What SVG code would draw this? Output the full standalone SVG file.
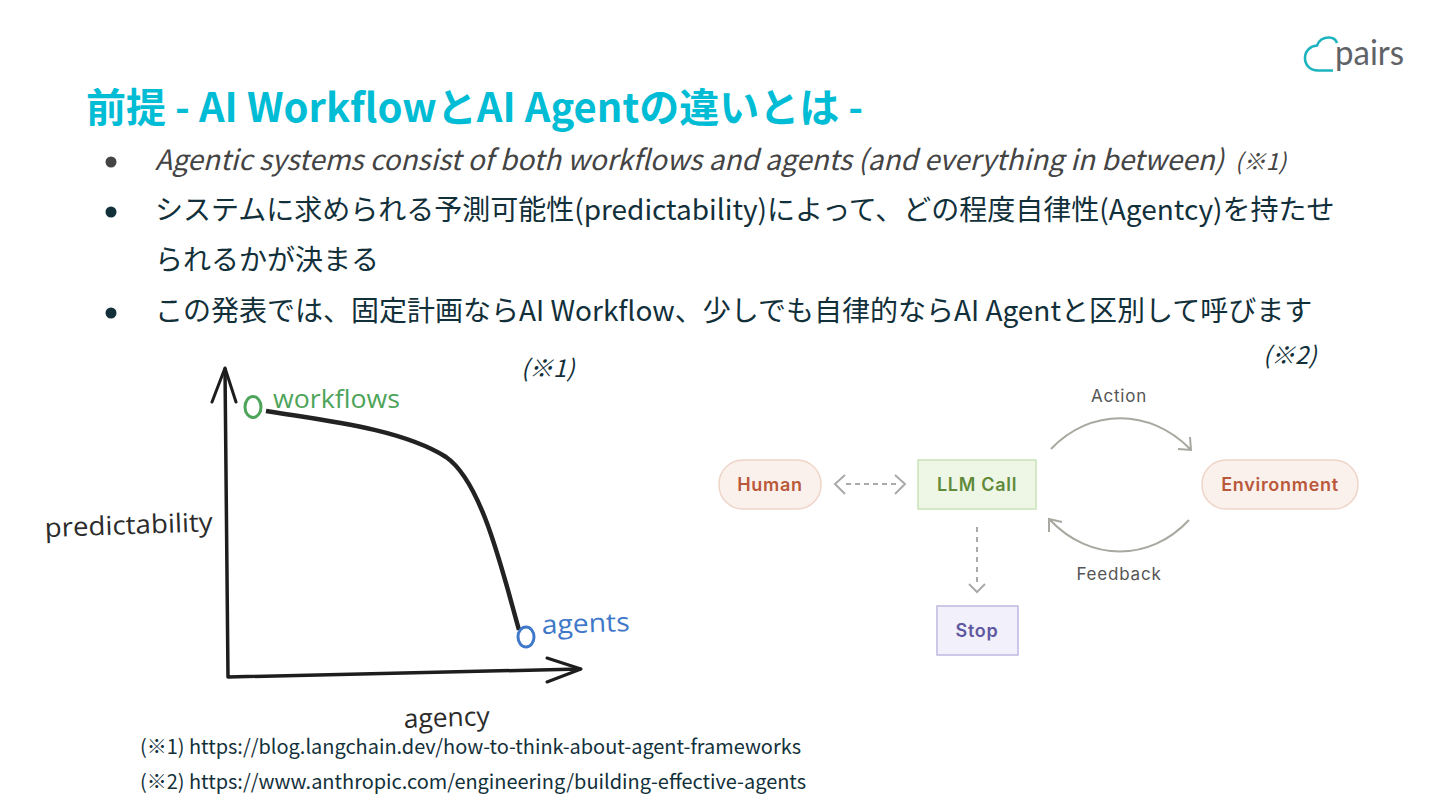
<svg xmlns="http://www.w3.org/2000/svg" width="1440" height="810" viewBox="0 0 1440 810">
<style>
text{font-family:"Noto Sans CJK JP","Noto Sans",sans-serif;fill:#1a2e35}
.title{font-size:40px;font-weight:700;fill:#00bcd4}
.b{font-size:28px;fill:#12303a}
.i{font-style:italic;fill:#444}
.r{font-size:24px;font-style:italic;fill:#12303a}
.f{font-size:20px;fill:#12303a}
.h{font-family:"Open Sans",sans-serif;font-size:26px;fill:#2b2b2b}
.d{font-family:"Inter",sans-serif;font-size:18px;font-weight:600;text-anchor:middle;letter-spacing:.7px}
.l{font-family:"Inter",sans-serif;font-size:17px;fill:#555;text-anchor:middle;letter-spacing:.8px}
.g{fill:none;stroke:#a8a8a0;stroke-width:2}
.da{fill:none;stroke:#aaa;stroke-width:2}
.ax{fill:none;stroke:#1d1d1d;stroke-width:3.5;stroke-linecap:round;stroke-linejoin:round}
</style>
<rect width="1440" height="810" fill="#fff"/>
<g id="logo">
<path d="M1333 70.500H1318C1310 70.500 1305 65 1305 58C1305 51 1310 46 1317 45.500C1319 40 1324 37.500 1329 37.500C1334 37.500 1336 40 1337 43" fill="none" stroke="#1db4c0" stroke-width="2.600"/>
<text x="1335" y="65" textLength="69" lengthAdjust="spacingAndGlyphs" style="font-family:'Lato',sans-serif;font-size:35px;fill:#5f6368">pairs</text>
</g>
<g id="heading"><text class="title" x="86" y="122">前提 - AI WorkflowとAI Agentの違いとは -</text></g>
<g id="bullets">
<circle cx="111" cy="162" r="5.500" fill="#444"/>
<text class="b i" x="155" y="170" textLength="1069" lengthAdjust="spacingAndGlyphs">Agentic systems consist of both workflows and agents (and everything in between)</text>
<text class="r" x="1235" y="170" style="fill:#444;font-size:23px">(※1)</text>
<circle cx="111" cy="212" r="5.500" fill="#12303a"/>
<text class="b" x="155" y="220">システムに求められる予測可能性(predictability)によって、どの程度自律性(Agentcy)を持たせ</text>
<text class="b" x="155" y="270">られるかが決まる</text>
<circle cx="111" cy="313" r="5.500" fill="#12303a"/>
<text class="b" x="155" y="321">この発表では、固定計画ならAI Workflow、少しでも自律的ならAI Agentと区別して呼びます</text>
</g>
<g id="refs">
<text class="r" x="521" y="377">(※1)</text>
<text class="r" x="1263" y="364">(※2)</text>
<text class="f" x="140" y="754" textLength="661" lengthAdjust="spacingAndGlyphs">(※1) https://blog.langchain.dev/how-to-think-about-agent-frameworks</text>
<text class="f" x="140" y="789" textLength="666" lengthAdjust="spacingAndGlyphs">(※2) https://www.anthropic.com/engineering/building-effective-agents</text>
</g>
<g id="chart-axes">
<path class="ax" d="M225 369L228 677L580 669"/>
<path class="ax" d="M212 402L225 368L236 402M547 658L581 669L547 682" style="stroke-width:3"/>
<path d="M266 411C320 420 400 428 446 457C482 482 502 570 519 630" fill="none" stroke="#222" stroke-width="4.500"/>
</g>
<g id="workflows"><ellipse cx="253" cy="407" rx="8" ry="10.500" fill="none" stroke="#4ea45a" stroke-width="3"/>
<text class="h" x="273" y="408" style="fill:#4ea45a" textLength="127" lengthAdjust="spacingAndGlyphs">workflows</text></g>
<g id="agents"><ellipse cx="526" cy="637" rx="8" ry="10" fill="none" stroke="#3f78c9" stroke-width="3"/>
<text class="h" x="542" y="634" style="fill:#3f78c9" textLength="88" lengthAdjust="spacingAndGlyphs" transform="rotate(-2 542 634)">agents</text></g>
<g id="predictability"><text class="h" x="45" y="537" textLength="168" lengthAdjust="spacingAndGlyphs" transform="rotate(-2 45 537)">predictability</text></g>
<g id="agency"><text class="h" x="404" y="728" textLength="86" lengthAdjust="spacingAndGlyphs" transform="rotate(-2 404 728)">agency</text></g>
<g id="connectors">
<path class="g" d="M1051 449C1090 408 1150 408 1190 449M1190 437L1191 450L1178 449"/>
<path class="g" d="M1189 520C1150 562 1090 562 1050 520M1062 522L1049 519L1049 532"/>
<path class="da" d="M846 484H896" stroke-dasharray="5 4"/>
<path class="da" d="M845 475L835 484L845 494M895 475L905 484L895 494"/>
<path class="da" d="M977 582V523" stroke-dasharray="5 5"/>
<path class="da" d="M969 584L977 592L985 584"/>
</g>
<g id="human"><rect x="719" y="460" width="102" height="49" rx="24" fill="#fbf1ec" stroke="#eed5c8" stroke-width="1.500"/><text class="d" x="770" y="491" style="fill:#b9583a">Human</text></g>
<g id="llm"><rect x="918" y="460" width="118" height="49" fill="#eef6e6" stroke="#c9e3b8" stroke-width="1.500"/><text class="d" x="977" y="491" style="fill:#5f8a3a">LLM Call</text></g>
<g id="environment"><rect x="1202" y="460" width="156" height="49" rx="24" fill="#fbf1ec" stroke="#eed5c8" stroke-width="1.500"/><text class="d" x="1280" y="491" style="fill:#b9583a">Environment</text></g>
<g id="stop"><rect x="937" y="606" width="81" height="49" fill="#f2f0fa" stroke="#bdb9e0" stroke-width="1.500"/><text class="d" x="977" y="637" style="fill:#5f58a0">Stop</text></g>
<g id="labels"><text class="l" x="1119" y="402">Action</text><text class="l" x="1119" y="580">Feedback</text></g>
</svg>
